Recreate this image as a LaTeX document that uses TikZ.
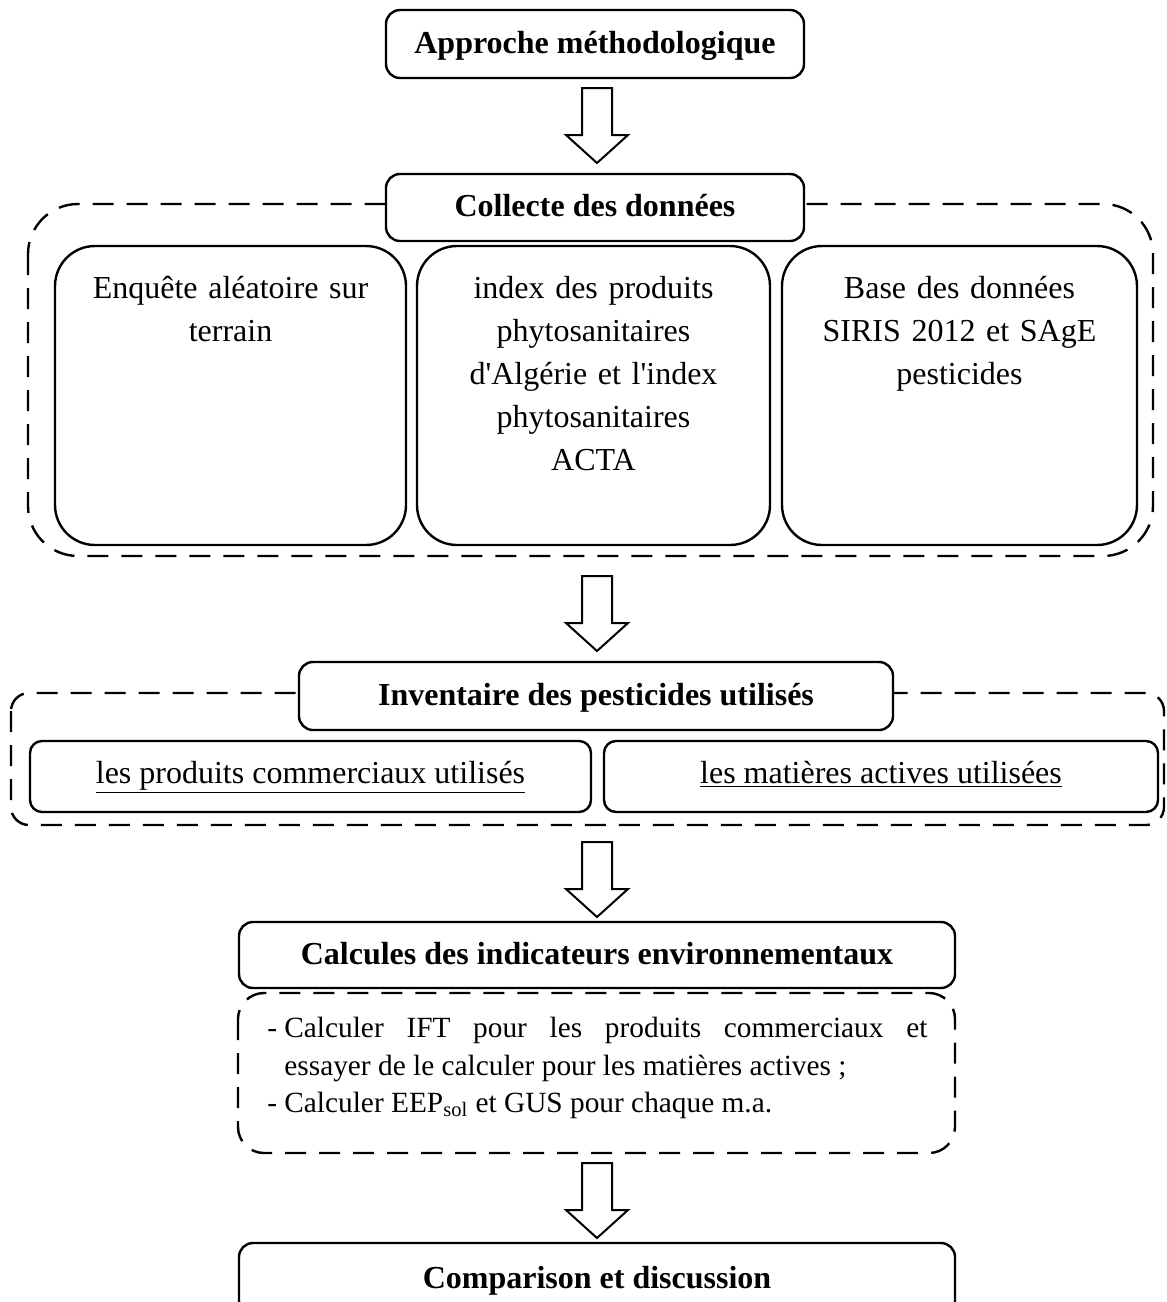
\documentclass[tikz,border=0pt]{standalone}
\usepackage{fontspec}
\setmainfont{Liberation Serif}
\newcommand{\bodyfont}{\fontsize{16}{21.5}\selectfont}
\newcommand{\listfont}{\fontsize{14.67}{19}\selectfont}
\begin{document}
\begin{tikzpicture}[x=0.5pt,y=-0.5pt,
  every node/.style={font=\bodyfont},
  box/.style={draw, line width=1.2pt, rounded corners=7pt, fill=white, inner sep=0pt},
  head/.style={box, font=\bodyfont\bfseries, text height=12pt, text depth=3pt},
  bigbox/.style={box, rounded corners=20pt},
  subbox/.style={box, rounded corners=6pt},
  grp/.style={draw, line width=1.2pt, dash pattern=on 10.5pt off 6.5pt},
  txt/.style={inner sep=0pt, align=center, text width=172pt, font=\bodyfont},
  pics/blockarrow/.style={code={
    \draw[line width=1pt, fill=white, line join=miter]
      (-15,0) -- (15,0) -- (15,47) -- (31,47) -- (0,75) -- (-31,47) -- (-15,47) -- cycle;}}
]
\useasboundingbox (0,0) rectangle (1167,1302);
\clip (0,0) rectangle (1167,1302);

% top
\node[head, minimum width=209pt, minimum height=34pt] (approche) at (595,44) {Approche méthodologique};
\pic (ar1) at (597,88) {blockarrow};

% group 1
\draw[grp, rounded corners=25pt] (28,204) rectangle (1153,556);
\node[head, minimum width=209pt, minimum height=33.5pt] (collecte) at (595,207.5) {Collecte des données};
\node[bigbox, minimum width=175.5pt, minimum height=149.5pt] (boxA) at (230.5,395.5) {};
\node[bigbox, minimum width=176.5pt, minimum height=149.5pt] (boxB) at (593.5,395.5) {};
\node[bigbox, minimum width=177.5pt, minimum height=149.5pt] (boxC) at (959.5,395.5) {};
\node[txt, anchor=base] (tA) at (230.5,298) {Enquête aléatoire sur\\terrain};
\node[txt, anchor=base] (tB) at (593.5,298) {index des produits\\phytosanitaires\\d\textquotesingle Algérie et l\textquotesingle index\\phytosanitaires\\ACTA};
\node[txt, anchor=base] (tC) at (959.5,298) {Base des données\\SIRIS 2012 et SAgE\\pesticides};

\pic (ar2) at (597,576) {blockarrow};

% group 2
\draw[grp, rounded corners=9pt] (11,693) rectangle (1164,825);
\node[head, minimum width=297pt, minimum height=34pt] (inventaire) at (596,696) {Inventaire des pesticides utilisés};
\node[subbox, minimum width=280.5pt, minimum height=35.5pt] (pc) at (310.5,776.5) {};
\node[subbox, minimum width=277pt, minimum height=35.5pt] (ma) at (881,776.5) {};
\node[anchor=base, inner sep=0pt] (tpc) at (310.5,783) {\underline{les produits commerciaux utilisés}};
\node[anchor=base, inner sep=0pt] (tma) at (881,783) {\underline{les matières actives utilisées}};

\pic (ar3) at (597,842) {blockarrow};

% group 3
\draw[grp, rounded corners=13pt] (238,993) rectangle (955,1153);
\node[head, minimum width=358pt, minimum height=33pt] (calcules) at (597,955) {Calcules des indicateurs environnementaux};
\node[anchor=base west, inner sep=0pt, font=\listfont] (l1) at (267,1037)
  {\makebox[8.5pt][l]{-}\makebox[321.5pt][s]{Calculer IFT pour les produits commerciaux et}};
\node[anchor=base west, inner sep=0pt, font=\listfont] (l2) at (284,1075)
  {essayer de le calculer pour les matières actives ;};
\node[anchor=base west, inner sep=0pt, font=\listfont] (l3) at (267,1112)
  {\makebox[8.5pt][l]{-}Calculer EEP\textsubscript{sol} et GUS pour chaque m.a.};

\pic (ar4) at (597,1163) {blockarrow};

\node[head, minimum width=358pt, minimum height=36pt] (comparison) at (597,1279) {Comparison et discussion};
\end{tikzpicture}
\end{document}
